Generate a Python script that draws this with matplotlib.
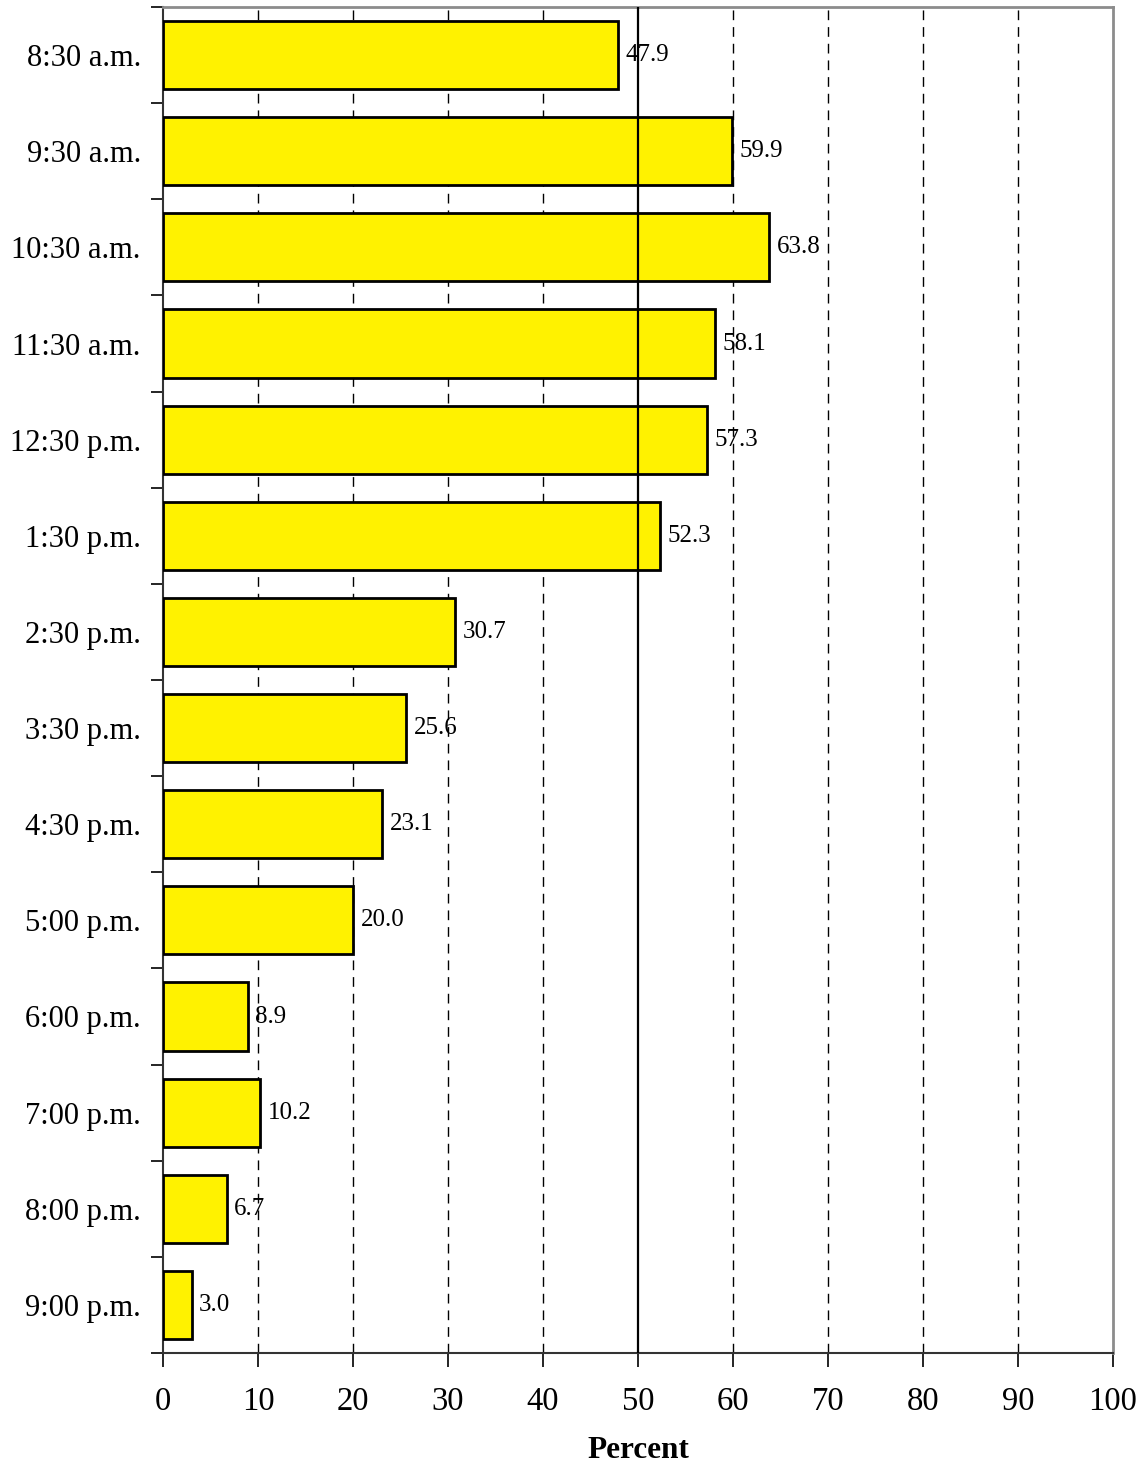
import matplotlib
matplotlib.use("Agg")
import matplotlib.pyplot as plt
import numpy as np

categories = ["8:30 a.m.", "9:30 a.m.", "10:30 a.m.", "11:30 a.m.", "12:30 p.m.",
              "1:30 p.m.", "2:30 p.m.", "3:30 p.m.", "4:30 p.m.", "5:00 p.m.",
              "6:00 p.m.", "7:00 p.m.", "8:00 p.m.", "9:00 p.m."]
values = [47.9, 59.9, 63.8, 58.1, 57.3, 52.3, 30.7, 25.6, 23.1, 20.0, 8.9, 10.2, 6.7, 3.0]
xticks = [0, 10, 20, 30, 40, 50, 60, 70, 80, 90, 100]

plt.rcParams['font.family'] = ['Liberation Serif', 'DejaVu Serif']

fig = plt.figure(figsize=(11.46, 14.64), dpi=100)
ax = fig.add_axes([163/1146, 1 - 1353/1464, (1113-163)/1146, (1353-7)/1464])

n = len(categories)
y = np.arange(n)
ax.barh(y, values, height=0.71, color="#FFF200", edgecolor="black", linewidth=2, zorder=3)
for yi, v in zip(y, values):
    ax.text(v + 0.8, yi, f"{v:.1f}", va="center", ha="left", fontsize=18, zorder=5)

ax.set_xlim(0, 100)
ax.set_ylim(n - 0.5, -0.5)
ax.set_xticks(xticks)
ax.set_xticklabels([str(t) for t in xticks], fontsize=23.5)
ax.tick_params(axis="x", direction="out", length=10, width=1.2, pad=14)

ax.set_yticks(y)
ax.set_yticklabels(categories, fontsize=22)
ax.set_yticks(np.arange(n + 1) - 0.5, minor=True)
ax.tick_params(axis="y", which="major", length=0, pad=16)
ax.tick_params(axis="y", which="minor", direction="out", length=9, width=1.2)

for t in xticks[1:-1]:
    if t == 50:
        ax.axvline(t, color="black", linewidth=1.6, zorder=4)
    else:
        ax.axvline(t, color="black", linewidth=1, linestyle=(0, (7, 5)), zorder=1)

for s in ["top", "right"]:
    ax.spines[s].set_color("#8c8c8c")
    ax.spines[s].set_linewidth(2)
for s in ["left", "bottom"]:
    ax.spines[s].set_color("#333333")
    ax.spines[s].set_linewidth(1.5)

ax.set_xlabel("Percent", fontsize=22.5, fontweight="bold", labelpad=14)

fig.savefig("out.png", dpi=100)
